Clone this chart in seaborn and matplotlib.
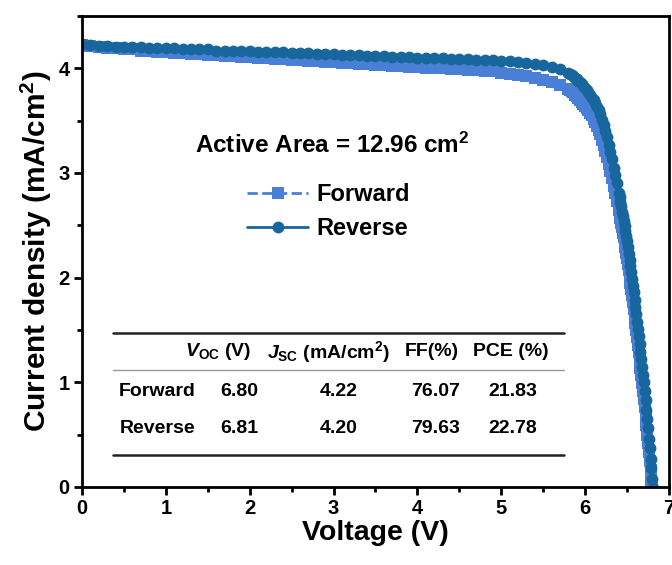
import matplotlib
matplotlib.use("Agg")
import matplotlib.pyplot as plt
import seaborn as sns
import numpy as np
import pandas as pd
from matplotlib.ticker import MultipleLocator

# voltage sweep (V)
voltage = [0.0, 0.1, 0.2, 0.3, 0.4, 0.5, 0.6, 0.7, 0.8, 0.9,
           1.0, 1.1, 1.2, 1.3, 1.4, 1.5, 1.6, 1.7, 1.8, 1.9,
           2.0, 2.1, 2.2, 2.3, 2.4, 2.5, 2.6, 2.7, 2.8, 2.9,
           3.0, 3.1, 3.2, 3.3, 3.4, 3.5, 3.6, 3.7, 3.8, 3.9,
           4.0, 4.1, 4.2, 4.3, 4.4, 4.5, 4.6, 4.7, 4.8, 4.9,
           5.0, 5.1, 5.2, 5.3, 5.4, 5.5, 5.6, 5.7, 5.8,
           5.82, 5.84, 5.86, 5.88, 5.90, 5.92, 5.94, 5.96, 5.98, 6.00,
           6.02, 6.04, 6.06, 6.08, 6.10, 6.12, 6.14, 6.16, 6.18, 6.20,
           6.22, 6.24, 6.26, 6.28, 6.30, 6.32, 6.34, 6.36, 6.38, 6.40,
           6.41, 6.42, 6.43, 6.44, 6.45, 6.46, 6.47, 6.48, 6.49, 6.50,
           6.51, 6.52, 6.53, 6.54, 6.55, 6.56, 6.57, 6.58, 6.59, 6.60,
           6.61, 6.62, 6.63, 6.64, 6.65, 6.66, 6.67, 6.68, 6.69, 6.70,
           6.71, 6.72, 6.73, 6.74, 6.75, 6.76, 6.77, 6.78, 6.79, 6.80,
           6.81]

j_forward = [4.22, 4.21, 4.20, 4.19, 4.19, 4.18, 4.18, 4.17, 4.17, 4.16,
             4.16, 4.15, 4.15, 4.14, 4.14, 4.13, 4.13, 4.12, 4.12, 4.11,
             4.11, 4.10, 4.10, 4.09, 4.09, 4.08, 4.08, 4.07, 4.07, 4.06,
             4.06, 4.05, 4.05, 4.04, 4.04, 4.03, 4.03, 4.02, 4.02, 4.01,
             4.01, 4.00, 4.00, 4.00, 3.99, 3.99, 3.98, 3.98, 3.97, 3.97,
             3.96, 3.95, 3.94, 3.93, 3.91, 3.89, 3.87, 3.84, 3.80,
             3.79, 3.78, 3.77, 3.75, 3.74, 3.72, 3.70, 3.68, 3.66, 3.64,
             3.62, 3.60, 3.57, 3.55, 3.52, 3.49, 3.45, 3.41, 3.37, 3.32,
             3.27, 3.21, 3.15, 3.09, 3.02, 2.95, 2.88, 2.81, 2.73, 2.65,
             2.61, 2.57, 2.52, 2.48, 2.43, 2.39, 2.34, 2.29, 2.24, 2.19,
             2.13, 2.07, 2.01, 1.95, 1.89, 1.83, 1.77, 1.70, 1.64, 1.57,
             1.50, 1.43, 1.36, 1.29, 1.22, 1.14, 1.07, 0.99, 0.92, 0.84,
             0.76, 0.67, 0.59, 0.50, 0.42, 0.33, 0.25, 0.16, 0.07, -0.01]

j_reverse = [4.23, 4.22, 4.21, 4.21, 4.20, 4.20, 4.20, 4.20, 4.19, 4.19,
             4.19, 4.19, 4.18, 4.18, 4.18, 4.18, 4.17, 4.17, 4.17, 4.17,
             4.17, 4.16, 4.16, 4.16, 4.16, 4.15, 4.15, 4.15, 4.14, 4.14,
             4.14, 4.13, 4.13, 4.13, 4.12, 4.12, 4.12, 4.11, 4.11, 4.11,
             4.10, 4.10, 4.10, 4.10, 4.09, 4.09, 4.09, 4.08, 4.08, 4.08,
             4.07, 4.07, 4.06, 4.05, 4.04, 4.03, 4.01, 3.99, 3.96,
             3.95, 3.94, 3.93, 3.91, 3.90, 3.88, 3.87, 3.85, 3.83, 3.81,
             3.79, 3.77, 3.75, 3.72, 3.70, 3.67, 3.63, 3.60, 3.56, 3.51,
             3.46, 3.40, 3.34, 3.27, 3.20, 3.13, 3.05, 2.98, 2.90, 2.81,
             2.77, 2.72, 2.68, 2.63, 2.59, 2.54, 2.49, 2.45, 2.40, 2.35,
             2.29, 2.23, 2.17, 2.11, 2.05, 1.99, 1.92, 1.86, 1.79, 1.72,
             1.65, 1.58, 1.51, 1.44, 1.37, 1.29, 1.22, 1.15, 1.07, 1.00,
             0.92, 0.83, 0.74, 0.65, 0.56, 0.46, 0.37, 0.27, 0.18, 0.08,
             -0.01]

# parameter table
row_labels = ["Forward", "Reverse"]
col_labels = [r"$V_{\rm OC}$ (V)", r"$J_{\rm SC}$ (mA/cm$^{\rm 2}$)", "FF(%)", "PCE (%)"]
table_vals = [["6.80", "4.22", "76.07", "21.83"],
              ["6.81", "4.20", "79.63", "22.78"]]

c_fwd = "#4a7fd6"
c_rev = "#17679e"

sns.set_theme(style="ticks")
plt.rcParams['font.family'] = ['Liberation Sans', 'DejaVu Sans']
plt.rcParams['font.weight'] = 'bold'
plt.rcParams['axes.labelweight'] = 'bold'
plt.rcParams['text.color'] = 'black'
plt.rcParams['axes.labelcolor'] = 'black'
plt.rcParams['xtick.color'] = 'black'
plt.rcParams['ytick.color'] = 'black'
plt.rcParams['mathtext.fontset'] = 'custom'
plt.rcParams['mathtext.rm'] = 'Liberation Sans:bold'
plt.rcParams['mathtext.bf'] = 'Liberation Sans:bold'
plt.rcParams['mathtext.it'] = 'Liberation Sans:bold:italic'

fig = plt.figure(figsize=(6.72, 5.65), dpi=100)
ax = fig.add_axes([82/672, 78/565, 587/672, 471/565])

df_f = pd.DataFrame({"V": voltage[:len(j_forward)], "J": j_forward})
df_r = pd.DataFrame({"V": voltage[:len(j_reverse)], "J": j_reverse})

sns.lineplot(data=df_f, x="V", y="J", ax=ax, color=c_fwd, marker="s", markersize=8,
             markeredgewidth=0, linestyle="--", linewidth=2, label="Forward", sort=False)
sns.lineplot(data=df_r, x="V", y="J", ax=ax, color=c_rev, marker="o", markersize=8.5,
             markeredgewidth=0, linewidth=2, label="Reverse", sort=False)

ax.set_xlim(0, 7)
ax.set_ylim(0, 4.5)
ax.xaxis.set_major_locator(MultipleLocator(1))
ax.xaxis.set_minor_locator(MultipleLocator(0.5))
ax.yaxis.set_major_locator(MultipleLocator(1))
ax.yaxis.set_minor_locator(MultipleLocator(0.5))
ax.tick_params(which='major', direction='out', length=6, width=2, labelsize=14.5, pad=3)
ax.tick_params(which='minor', direction='out', length=3.5, width=2)
for s in ax.spines.values():
    s.set_visible(True)
    s.set_linewidth(2)
    s.set_color("black")
for lab in ax.get_xticklabels() + ax.get_yticklabels():
    lab.set_fontweight('bold')

ax.set_xlabel("Voltage (V)", fontsize=20.5, fontweight='bold', labelpad=1)
ax.set_ylabel(r"Current density (mA/cm$^{\rm 2}$)", fontsize=21.5, fontweight='bold', labelpad=3)

leg = ax.legend(loc='upper left', bbox_to_anchor=(0.265, 0.665), frameon=False,
                fontsize=17, handlelength=2.6, handletextpad=0.35, labelspacing=0.45,
                borderaxespad=0)
for t in leg.get_texts():
    t.set_fontweight('bold')

ax.text(2.99, 3.26, r"Active Area = 12.96 cm$^{\rm 2}$", fontsize=17.5, fontweight='bold',
        ha='center', va='center')

# table drawn as text and rules
x_rows = 0.90
x_head = [1.63, 2.94, 4.17, 5.11]
x_vals = [1.88, 3.06, 4.22, 5.14]
y_head = 1.29
y_rows = [0.91, 0.56]
ax.plot([0.37, 5.75], [1.47, 1.47], color="#222222", lw=1.8)
ax.plot([0.37, 5.75], [1.12, 1.12], color="#999999", lw=1.0)
ax.plot([0.37, 5.75], [0.305, 0.305], color="#222222", lw=1.8)
for xh, lab in zip(x_head, col_labels):
    ax.text(xh, y_head, lab, fontsize=14, fontweight='bold', ha='center', va='center')
for yr, rl, vals in zip(y_rows, row_labels, table_vals):
    ax.text(x_rows, yr, rl, fontsize=14, fontweight='bold', ha='center', va='center')
    for xv, v in zip(x_vals, vals):
        ax.text(xv, yr, v, fontsize=14, fontweight='bold', ha='center', va='center')

fig.savefig("out.png", dpi=100)
